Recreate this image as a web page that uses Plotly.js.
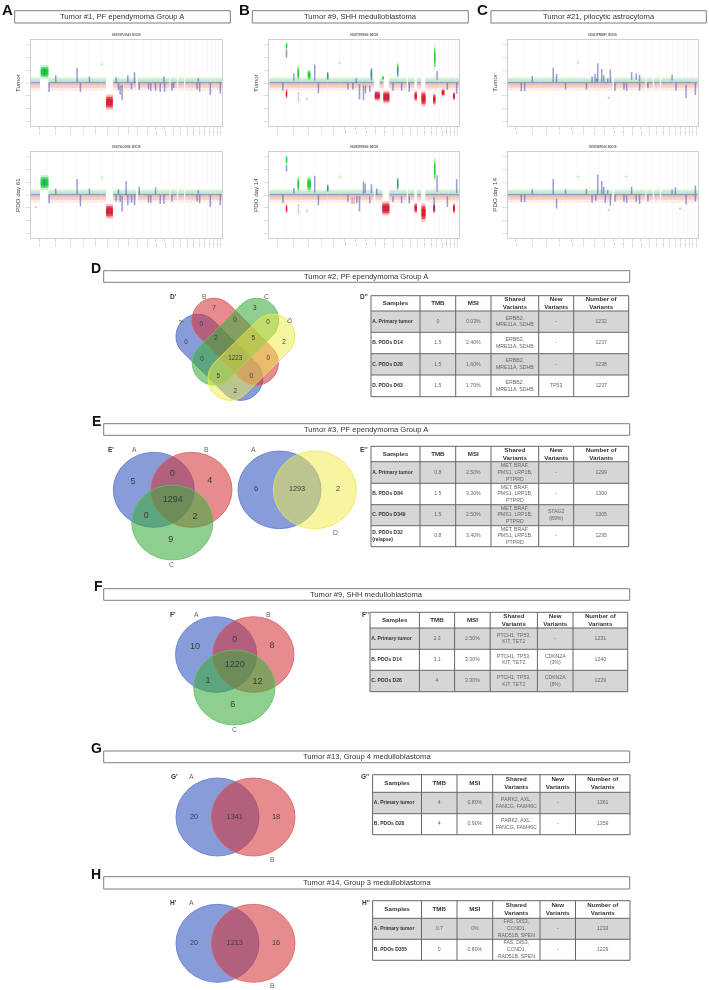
<!DOCTYPE html>
<html><head><meta charset="utf-8">
<script src="https://cdn.plot.ly/plotly-3.0.1.min.js"></script>
<style>html,body{margin:0;padding:0;background:#fff}#p{width:709px;height:990px;filter:blur(0.3px)}</style>
</head><body><div id="p"></div>
<script>
/* ---------- copy-number panels: values ----------
   x = position along the genome axis (0-572), y = log2 ratio
   features: [x, low, high]; blocks: [xStart, xEnd, low, high] */
const chrLabels = ['chr1','chr2','chr3','chr4','chr5','chr6','chr7','chr8','chr9','chr10','chr11','chr12','chr13','chr14','chr15','chr16','chr17','chr18','chr19','chr20','chr21','chr22'];
const chrEdges = [0,49.5,97.8,137.2,175.2,211.2,245.2,276.9,305.9,333.9,360.9,387.7,414.2,437.1,458.4,478.7,496.7,512.8,528.3,540,552.5,562,572];
const centromereGaps = [[315,320],[414,418],[437,441],[458,462]];

const a1Title='S00078TU01AS_B0C0S', a2Title='S00079LO200S_B0C0S', b1Title='S00275TM0906_B0C0S', b2Title='S00282TM0906_B0C0S', c1Title='S00312PRIMRY_B0C0S', c2Title='S00319DRG14_B0C0S';

const a1Blue=[[40,0.55,1.15],[54,-0.7,0],[74,0.05,0.6],[138,0.05,1.2],[148,-0.7,0],[175,0.05,0.5],[235,-1.75,-1.1],[255,0,0.45],[262,-0.55,0],[267,-0.95,-0.2],[273,-1.35,-0.15],[290,0.05,0.6],[301,-0.5,0],[310,0,0.85],[324,-0.55,0],[352,-0.5,0],[359,-0.6,0],[373,-0.6,0],[387,-0.7,0],[398,0.05,0.5],[400,-0.7,0],[422,-0.6,0],[427,-0.4,0],[497,-0.5,0],[501,0.05,0.4],[505,-0.7,0],[537,-0.95,0],[567,-0.85,0]];
const a1Green=[[29,52,0.35,1.4]];
const a1Red=[[225,245,-2.1,-0.9]];
const a1Faint=[];
const a1GreenDots=[[212,1.47]];
const a1RedDots=[];
const a1Gaps=[[27,53],[224,246]];

const a2Blue=[[40,0.6,1.25],[54,-0.65,0],[74,0.05,0.5],[138,0.05,1.25],[148,-0.9,0],[175,0.05,0.5],[235,-1.5,-0.9],[255,-0.5,0],[262,0.05,0.45],[267,-0.55,0],[273,-1.3,-0.1],[285,0,1.1],[290,-0.8,0],[301,-0.6,0],[310,-0.8,0],[324,0.05,0.65],[352,-0.6,0],[359,-0.6,0],[373,0.05,0.6],[387,-0.7,0],[398,-0.7,0],[422,-0.5,0],[497,-0.5,0],[501,0.05,0.4],[505,-0.65,0],[537,-0.95,0],[567,-0.8,0]];
const a2Green=[[29,52,0.4,1.58]];
const a2Red=[[225,245,-1.85,-0.7]];
const a2Faint=[];
const a2GreenDots=[[212,1.37]];
const a2RedDots=[[14,-0.95]];
const a2Gaps=[[27,53],[224,246]];

const b1Blue=[[52,2,2.6],[41,-0.6,0],[74,0.2,0.75],[137,0.2,1.45],[148,-0.8,0],[176,0.25,0.85],[237,-0.5,0],[252,-0.5,0],[262,0,0.4],[272,-1.3,-0.1],[284,-1.35,-0.2],[290,-0.8,-0.2],[303,-0.7,-0.2],[308,0.2,1.15],[325,-1.1,-0.7],[352,-1.35,-0.85],[373,-0.6,0],[387,0.5,1.2],[399,-0.6,0],[422,-0.7,0],[506,0.25,0.95],[537,-0.55,0],[565,-0.85,0]];
const b1Green=[[50,54,2.6,3.2],[85,90,0.2,1.35],[116,124,0.2,1.05],[174,178,0.25,0.85],[306,310,0.2,1.15],[341,345,0.2,0.6],[385,389,0.5,1.65],[497,501,1,3]];
const b1Red=[[50,54,-1.25,-0.45],[318,333,-1.4,-0.6],[344,362,-1.6,-0.6],[438,445,-1.45,-0.6],[459,471,-1.85,-0.6],[494,501,-1.75,-0.8],[520,528,-1.05,-0.45],[554,560,-1.35,-0.7]];
const b1Faint=[[86,90,-1.5,-0.7],[112,116,-1.35,-1.1]];
const b1GreenDots=[[212,1.55]];
const b1RedDots=[];
const b1Gaps=[[318,333],[344,362],[438,445],[459,471]];

const b2Blue=[[52,1.85,2.35],[41,-0.65,0],[74,0.1,0.55],[137,0.2,1.5],[148,-0.8,0],[176,0.25,0.8],[237,-0.55,0],[264,-0.65,-0.1],[272,-1.3,-0.1],[284,0.1,1.05],[289,0.15,0.9],[303,-0.65,-0.1],[308,0.15,0.85],[324,0,0.5],[352,-1.3,-0.8],[373,-0.55,-0.1],[387,0.45,1.3],[399,-0.65,-0.1],[422,-0.65,-0.1],[497,-1.2,-0.15],[506,0.25,1.55],[537,-0.95,-0.1],[565,0.15,1.25]];
const b2Green=[[50,54,2.35,3.15],[85,90,0.25,1.45],[115,125,0.25,1.45],[174,178,0.25,0.8],[385,389,0.45,1.3],[497,501,1.05,2.9]];
const b2Red=[[50,54,-1.45,-0.7],[341,362,-1.6,-0.5],[438,445,-1.45,-0.6],[459,471,-2.1,-0.65],[494,500,-1.45,-0.65],[554,560,-1.45,-0.65]];
const b2Faint=[[86,90,-1.5,-0.7],[112,116,-1.4,-1.1],[246,258,-0.7,-0.15]];
const b2GreenDots=[[212,1.45]];
const b2RedDots=[];
const b2Gaps=[[341,362],[438,445],[459,471]];

const c1Blue=[[41,-0.65,0],[51,-0.65,0],[74,0.05,0.55],[137,0.05,1.2],[147,0.05,0.7],[174,-0.5,0],[237,-0.5,0],[254,0.05,0.5],[263,0.1,0.7],[268,0.05,0.35],[271,0.1,1.55],[283,0.1,1.1],[289,0.1,0.6],[301,0.05,0.35],[309,0.05,1.05],[323,-0.6,0],[350,-0.5,0],[358,-0.6,0],[373,0.25,0.85],[387,0.25,0.75],[397,0.1,0.65],[397,-0.6,0],[422,-0.4,0],[495,0.2,0.65],[507,-0.6,0],[537,-1.2,-0.15],[565,-0.95,0]];
const c1Green=[];
const c1Red=[];
const c1Faint=[];
const c1GreenDots=[[211,1.6]];
const c1RedDots=[[304,-1.15]];
const c1Gaps=[];

const c2Blue=[[41,-0.55,0],[51,-0.55,0],[74,0.05,0.45],[137,0.05,1.25],[147,-1.05,-0.3],[174,0.05,0.45],[237,0.05,0.47],[254,-0.6,0],[265,-0.45,0],[271,0.05,1.6],[283,0.05,1.1],[289,0.05,0.65],[294,-0.6,0],[301,0.05,0.4],[309,-0.85,0],[323,-0.5,0],[350,-0.5,0],[358,-0.6,0],[373,0.05,0.65],[387,-0.55,0],[397,-0.7,0],[422,-0.5,0],[495,0.05,0.45],[505,0.05,0.6],[537,-0.75,0],[565,0.05,0.75],[565,-0.5,0]];
const c2Green=[];
const c2Red=[];
const c2Faint=[];
const c2GreenDots=[[211,1.45],[357,1.45]];
const c2RedDots=[[304,-1.2],[519,-1.05]];
const c2Gaps=[];

/* ---------- Venn counts ---------- */
const vennDCounts=['7','3','0','0','0','0','2','5','2','0','1223','0','5','0','2'];
const vennE1Counts=['5','0','4','1294','0','2','9'];
const vennE2Counts=['6','1293','2'];
const vennFCounts=['10','0','8','1220','1','12','6'];
const vennGCounts=['20','1341','18'];
const vennHCounts=['20','1213','16'];

/* ---------- Tables ---------- */
const tableHeader=['Samples','TMB','MSI','Shared<br>Variants','New<br>Variants','Number of<br>Variants'];
const d_shared='ERBB2,<br>MRE11A, SDHB', e_shared='MET, BRAF,<br>PMS1, LRP1B,<br>PTPRD', f_shared='PTCH1, TP53,<br>KIT, TET2', g_shared='PARK2, AXL,<br>FANCG, FAM46C', h_shared='FAS, DIS3,<br>CCND1,<br>RAD51B, SPEN';
const tableD=[['A. Primary tumor','0','0.03%',d_shared,'-','1232'],['B. PDOs D14','1.5','2.40%',d_shared,'-','1237'],['C. PDOs D28','1.5','1.60%',d_shared,'-','1238'],['D. PDOs D63','1.5','1.70%',d_shared,'TP53','1237']];
const tableE=[['A. Primary tumor','0.8','2.50%',e_shared,'-','1299'],['B. PDOs D84','1.5','3.30%',e_shared,'-','1300'],['C. PDOs D349','1.5','2.50%',e_shared,'STAG2<br>(89%)','1305'],['D. PDOs D32<br>(relapse)','0.8','3.40%',e_shared,'-','1295']];
const tableF=[['A. Primary tumor','2.3','2.50%',f_shared,'-','1231'],['B. PDOs D14','3.1','3.30%',f_shared,'CDKN2A<br>(3%)','1240'],['C. PDOs D28','4','3.30%',f_shared,'CDKN2A<br>(8%)','1239']];
const tableG=[['A. Primary tumor','4','0.80%',g_shared,'-','1361'],['B. PDOs D28','4','0.90%',g_shared,'-','1359']];
const tableH=[['A. Primary tumor','0.7','0%',h_shared,'-','1233'],['B. PDOs D355','0','0.80%',h_shared,'-','1229']];

/* ---------- layout (page pixels) ---------- */
const W=709,H=990,FONT='Liberation Sans';
const PX=[[31,222],[269.3,459],[507.7,697.7]], PY=[[40,126],[152,238]];
const panels=[
 {c:0,r:0,t:a1Title,blue:a1Blue,green:a1Green,red:a1Red,faint:a1Faint,gd:a1GreenDots,rd:a1RedDots,gaps:a1Gaps,y:'Tumor',yx:17},
 {c:0,r:1,t:a2Title,blue:a2Blue,green:a2Green,red:a2Red,faint:a2Faint,gd:a2GreenDots,rd:a2RedDots,gaps:a2Gaps,y:'PDO day 61',yx:17},
 {c:1,r:0,t:b1Title,blue:b1Blue,green:b1Green,red:b1Red,faint:b1Faint,gd:b1GreenDots,rd:b1RedDots,gaps:b1Gaps,y:'Tumor',yx:255},
 {c:1,r:1,t:b2Title,blue:b2Blue,green:b2Green,red:b2Red,faint:b2Faint,gd:b2GreenDots,rd:b2RedDots,gaps:b2Gaps,y:'PDO day 14',yx:255},
 {c:2,r:0,t:c1Title,blue:c1Blue,green:c1Green,red:c1Red,faint:c1Faint,gd:c1GreenDots,rd:c1RedDots,gaps:c1Gaps,y:'Tumor',yx:493.7},
 {c:2,r:1,t:c2Title,blue:c2Blue,green:c2Green,red:c2Red,faint:c2Faint,gd:c2GreenDots,rd:c2RedDots,gaps:c2Gaps,y:'PDO day 14',yx:493.7}
];
const bandLayers=[[0,0.45,'#e2f3e2'],[0,0.32,'#c9ebcc'],[0,0.14,'#b4dbbd'],[-0.6,0,'#fdecea'],[-0.38,0,'#f6cfcb'],[-0.17,0,'#e0c2c6']];

function normalSegments(extra){
  const gaps=centromereGaps.concat(extra).sort((a,b)=>a[0]-b[0]);
  const segs=[];
  for(let i=0;i<chrEdges.length-1;i++){
    let s=chrEdges[i];const e=chrEdges[i+1];
    gaps.forEach(g=>{ if(g[1]<=s||g[0]>=e) return; if(g[0]>s) segs.push([s,g[0]]); s=Math.max(s,g[1]); });
    if(s<e) segs.push([s,e]);
  }
  return segs;
}
function blockBar(list,color,op,ax,inset){
  return {type:'bar',xaxis:ax.x,yaxis:ax.y,hoverinfo:'skip',showlegend:false,opacity:op,
    x:list.map(b=>(b[0]+b[1])/2),width:list.map(b=>b[1]-b[0]),
    base:list.map(b=>b[2]+(b[3]-b[2])*inset),y:list.map(b=>(b[3]-b[2])*(1-2*inset)),
    marker:{color:color,line:{width:0}}};
}

const traces=[],shapes=[],annotations=[],layout={};
const mids=chrEdges.slice(0,-1).map((e,i)=>(e+chrEdges[i+1])/2);
panels.forEach((p,i)=>{
  const n=i+1, ax={x:'x'+(n>1?n:''),y:'y'+(n>1?n:'')};
  const px=PX[p.c],py=PY[p.r];
  layout['xaxis'+(n>1?n:'')]={domain:[px[0]/W,px[1]/W],range:[0,572],fixedrange:true,anchor:ax.y,
    tickmode:'array',tickvals:mids,ticktext:chrLabels,tickangle:-90,tickfont:{size:2,color:'#888',family:FONT},
    ticks:'outside',ticklen:3,tickcolor:'#c4c4c4',tickwidth:0.6,showgrid:false,zeroline:false,
    showline:true,mirror:true,linecolor:'#cfcfcf',linewidth:1,
    minor:{tickmode:'array',tickvals:chrEdges,showgrid:true,gridcolor:'#f4f4f4',gridwidth:0.6,ticks:''}};
  layout['yaxis'+(n>1?n:'')]={domain:[1-py[1]/H,1-py[0]/H],range:[-3.37,3.37],fixedrange:true,anchor:ax.x,
    tickmode:'array',tickvals:[-3,-2,-1,0,1,2,3],tickfont:{size:2,color:'#888',family:FONT},
    ticks:'outside',ticklen:2,tickcolor:'#c4c4c4',tickwidth:0.6,showgrid:false,zeroline:false,
    showline:true,mirror:true,linecolor:'#cfcfcf',linewidth:1};
  const segs=normalSegments(p.gaps);
  bandLayers.forEach(l=>{
    traces.push({type:'bar',xaxis:ax.x,yaxis:ax.y,hoverinfo:'skip',showlegend:false,
      x:segs.map(s=>(s[0]+s[1])/2),width:segs.map(s=>s[1]-s[0]),base:segs.map(()=>l[0]),y:segs.map(()=>l[1]-l[0]),
      marker:{color:l[2],line:{width:0}}});
  });
  const lx=[],ly=[];
  segs.forEach(s=>{lx.push(s[0],s[1],null);ly.push(0.03,0.03,null);});
  traces.push({type:'scatter',mode:'lines',xaxis:ax.x,yaxis:ax.y,x:lx,y:ly,hoverinfo:'skip',showlegend:false,line:{color:'#7a84c6',width:0.8}});
  if(p.green.length){traces.push(blockBar(p.green,'#6fea7c',0.45,ax,0));traces.push(blockBar(p.green,'#2fdc45',0.8,ax,0.15));traces.push(blockBar(p.green,'#14cc2c',0.8,ax,0.3));}
  if(p.red.length){traces.push(blockBar(p.red,'#f4707a',0.45,ax,0));traces.push(blockBar(p.red,'#ee2a32',0.8,ax,0.15));traces.push(blockBar(p.red,'#e0101c',0.8,ax,0.3));}
  if(p.faint.length) traces.push(blockBar(p.faint,'#f08a8a',0.55,ax,0));
  const bx=[],by=[];
  p.blue.forEach(b=>{bx.push(b[0],b[0],null);by.push(b[1],b[2],null);});
  traces.push({type:'scatter',mode:'lines',xaxis:ax.x,yaxis:ax.y,x:bx,y:by,hoverinfo:'skip',showlegend:false,
    line:{color:'rgba(86,92,190,0.6)',width:1.5}});
  if(p.gd.length) traces.push({type:'scatter',mode:'markers',xaxis:ax.x,yaxis:ax.y,x:p.gd.map(d=>d[0]),y:p.gd.map(d=>d[1]),hoverinfo:'skip',showlegend:false,marker:{size:2,color:'#a4eaa4'}});
  if(p.rd.length) traces.push({type:'scatter',mode:'markers',xaxis:ax.x,yaxis:ax.y,x:p.rd.map(d=>d[0]),y:p.rd.map(d=>d[1]),hoverinfo:'skip',showlegend:false,marker:{size:2,color:'#f0a8a8'}});
  annotations.push({xref:'x7',yref:'y7',x:(px[0]+px[1])/2,y:py[0]-5,text:'<b>'+p.t+'</b>',showarrow:false,font:{size:2.6,color:'#555',family:FONT}});
  annotations.push({xref:'x7',yref:'y7',x:p.yx,y:(py[0]+py[1])/2,text:p.y,textangle:-90,showarrow:false,font:{size:6.2,color:'#444',family:FONT}});
});

layout.xaxis7={domain:[0,1],range:[0,W],visible:false,fixedrange:true,anchor:'y7'};
layout.yaxis7={domain:[0,1],range:[H,0],visible:false,fixedrange:true,anchor:'x7'};
const OV={xref:'x7',yref:'y7',layer:'below'};

function frame(x0,x1,y0,y1,text){
  shapes.push(Object.assign({type:'rect',x0,x1,y0,y1,fillcolor:'#fff',line:{color:'#7d7d7d',width:1}},OV));
  annotations.push({xref:'x7',yref:'y7',x:(x0+x1)/2,y:(y0+y1)/2,text,showarrow:false,font:{size:7.6,color:'#333',family:FONT}});
}
frame(14.7,230.3,10.7,23,'Tumor #1, PF ependymoma Group A');
frame(252.3,468.3,10.7,23,'Tumor #9, SHH medulloblastoma');
frame(491,706.3,10.7,23,'Tumor #21, pilocytic astrocytoma');
frame(103.7,629.7,270.7,282.3,'Tumor #2, PF ependymoma Group A');
frame(103.7,629.7,423.7,435.3,'Tumor #3, PF ependymoma Group A');
frame(103.7,629.7,588.7,600.3,'Tumor #9, SHH medulloblastoma');
frame(103.7,629.7,751,762.7,'Tumor #13, Group 4 medulloblastoma');
frame(103.7,629.7,876.7,889,'Tumor #14, Group 3 medulloblastoma');

function label(x,y,text,size,opt){
  annotations.push(Object.assign({xref:'x7',yref:'y7',x,y,text,showarrow:false,font:{size,color:'#111',family:FONT}},opt||{}));
}
[['A',7,9],['B',244.3,9],['C',482.3,9]].forEach(a=>label(a[1],a[2],'<b>'+a[0]+'</b>',15));
[['D',96,268],['E',96,421],['F',98,586],['G',96,748],['H',96.4,874]].forEach(a=>label(a[1],a[2],'<b>'+a[0]+'</b>',14));
[["D'",173.3,296],["D''",364,296],["E'",111.3,449],["E''",364,449],["F'",172.6,614],["F''",365.6,614],["G'",174,776.7],["G''",365.6,776.7],["H'",173.5,902],["H''",365.6,902]]
  .forEach(a=>label(a[1],a[2],'<b>'+a[0]+'</b>',6.5,{font:{size:6.5,color:'#333',family:FONT}}));
const setColor='#666';
function setLabel(t,x,y,angle){label(x,y,t,6.8,{font:{size:6.8,color:setColor,family:FONT},textangle:angle||0});}
setLabel('A',180.7,321,-45);setLabel('B',204,296);setLabel('C',266,296);setLabel('D',290,320,45);
setLabel('A',134.3,449.3);setLabel('B',206.7,449.3);setLabel('C',171.8,564);setLabel('A',253.3,449.3);setLabel('D',335,532);
setLabel('A',196.6,614);setLabel('B',268.7,614);setLabel('C',234,729.3);
setLabel('A',191.7,776.7);setLabel('B',272.4,859.3);
setLabel('A',191.7,902);setLabel('B',272.4,985);

/* Venn sets */
const SET={A:['rgba(52,84,192,0.58)','#5a76d0'],B:['rgba(212,50,54,0.56)','#dc5a5a'],C:['rgba(60,172,62,0.58)','#62c066'],D:['rgba(240,236,70,0.5)','#ece84a']};
function ell(s,x0,x1,y0,y1){shapes.push(Object.assign({type:'circle',x0,x1,y0,y1,fillcolor:SET[s][0],line:{color:SET[s][1],width:0.8}},OV));}
function stadium(s,x1,y1,x2,y2,r){
  const a=Math.atan2(y2-y1,x2-x1),pts=[];
  for(let k=0;k<=28;k++){const t=a+Math.PI/2+Math.PI*k/28;pts.push([x1+r*Math.cos(t),y1+r*Math.sin(t)]);}
  for(let k=0;k<=28;k++){const t=a-Math.PI/2+Math.PI*k/28;pts.push([x2+r*Math.cos(t),y2+r*Math.sin(t)]);}
  const path='M'+pts.map(q=>q[0].toFixed(2)+','+q[1].toFixed(2)).join('L')+'Z';
  shapes.push(Object.assign({type:'path',path,fillcolor:SET[s][0],line:{color:SET[s][1],width:0.9}},OV));
}
stadium('A',198,336.3,240.7,378.3,22);
stadium('B',214,320.3,256.3,363,22);
stadium('C',256.7,320.3,214.3,363,22);
stadium('D',272.7,336.3,230,378.3,22);
ell('A',113.3,194.3,452.3,527.3);ell('B',151,232,452.3,527.3);ell('C',131.7,213,485,560);
ell('A',238,321,451,528.7);ell('D',273.3,356.3,451,528.7);
ell('A',175.5,256.7,616.7,692.3);ell('B',212.8,294,616.7,692.3);ell('C',193.7,275,650,725);
ell('A',176,259,778,856);ell('B',211.5,295,778,856);
ell('A',176,259,904.3,982.3);ell('B',211.5,295,904.3,982.3);

function countTrace(texts,xs,ys,size){
  traces.push({type:'scatter',mode:'text',xaxis:'x7',yaxis:'y7',x:xs,y:ys,text:texts,textposition:'middle center',hoverinfo:'skip',showlegend:false,
    textfont:{size,color:'#3a3a3a',family:FONT}});
}
countTrace(vennDCounts,[214,254.7,201.3,235,268,186,216,253.3,284,202,235.3,268.3,218.3,251.3,235.3],[308.3,308.3,324,320.7,322.7,342.3,338.3,338.3,342.3,359,358.3,358,376.3,376,391.3],6.3);
countTrace(vennE1Counts,[133,172.3,209.7,172.7,146.3,195,170.7],[481.3,474,480.7,499.3,516,516.7,540],9);
countTrace(vennE2Counts,[256,297,338],[489,489,489],7.3);
countTrace(vennFCounts,[195,234.7,272,234.7,208,257.5,232.7],[646.7,639.3,645.7,664.7,681,682,705],9);
countTrace(vennGCounts,[194,234.7,276],[816.7,816.7,816.7],7.3);
countTrace(vennHCounts,[194,234.7,276],[942.7,942.7,942.7],7.3);

/* Tables */
function drawTable(rows,cols,ys){
  const all=[tableHeader].concat(rows);
  for(let r=0;r<all.length;r++){
    const grey=r%2===1;
    shapes.push(Object.assign({type:'rect',x0:cols[0],x1:cols[cols.length-1],y0:ys[r],y1:ys[r+1],fillcolor:grey?'#d6d6d6':'#fff',line:{width:0}},OV));
  }
  ys.forEach(y=>shapes.push(Object.assign({type:'line',x0:cols[0],x1:cols[cols.length-1],y0:y,y1:y,line:{color:'#666',width:1}},OV)));
  cols.forEach(x=>shapes.push(Object.assign({type:'line',x0:x,x1:x,y0:ys[0],y1:ys[ys.length-1],line:{color:'#666',width:1}},OV)));
  const tx=[],ty=[],tt=[],ts=[],tc=[],tp=[];
  all.forEach((row,r)=>row.forEach((cell,c)=>{
    const head=r===0, first=c===0&&!head;
    tx.push(first?cols[0]+1.2:(cols[c]+cols[c+1])/2);
    ty.push((ys[r]+ys[r+1])/2);
    tt.push(head||first?'<b>'+cell.replace('<br>','</b><br><b>')+'</b>':cell);
    ts.push(head?6.2:(first?5:5.2));
    tc.push(head?'#333':(first?'#333':'#666'));
    tp.push(first?'middle right':'middle center');
  }));
  traces.push({type:'scatter',mode:'text',xaxis:'x7',yaxis:'y7',x:tx,y:ty,text:tt,textposition:tp,hoverinfo:'skip',showlegend:false,
    textfont:{size:ts,color:tc,family:FONT}});
}
drawTable(tableD,[371,420,455.7,491,538.7,573.7,628.7],[295.7,311,332.3,353.7,375,396.7]);
drawTable(tableE,[371,420,455.7,491,538.7,573.7,628.7],[446.3,461.7,483.3,504.7,525.7,546.7]);
drawTable(tableF,[370,419.4,454.6,490.2,537.4,573,627.7],[612.3,628,649.3,670.3,691.7]);
drawTable(tableG,[372.6,421.5,457,492.7,540,575.5,630],[774.7,792.3,813.7,834.7]);
drawTable(tableH,[372.6,421.5,457,492.7,540,575.5,630],[900.7,918.3,939.3,960.3]);

Object.assign(layout,{width:W,height:H,margin:{l:0,r:0,t:0,b:0},paper_bgcolor:'#fff',plot_bgcolor:'rgba(0,0,0,0)',
  barmode:'overlay',showlegend:false,shapes,annotations,font:{family:FONT}});
Plotly.newPlot('p',traces,layout,{displayModeBar:false,staticPlot:true});
</script></body></html>
